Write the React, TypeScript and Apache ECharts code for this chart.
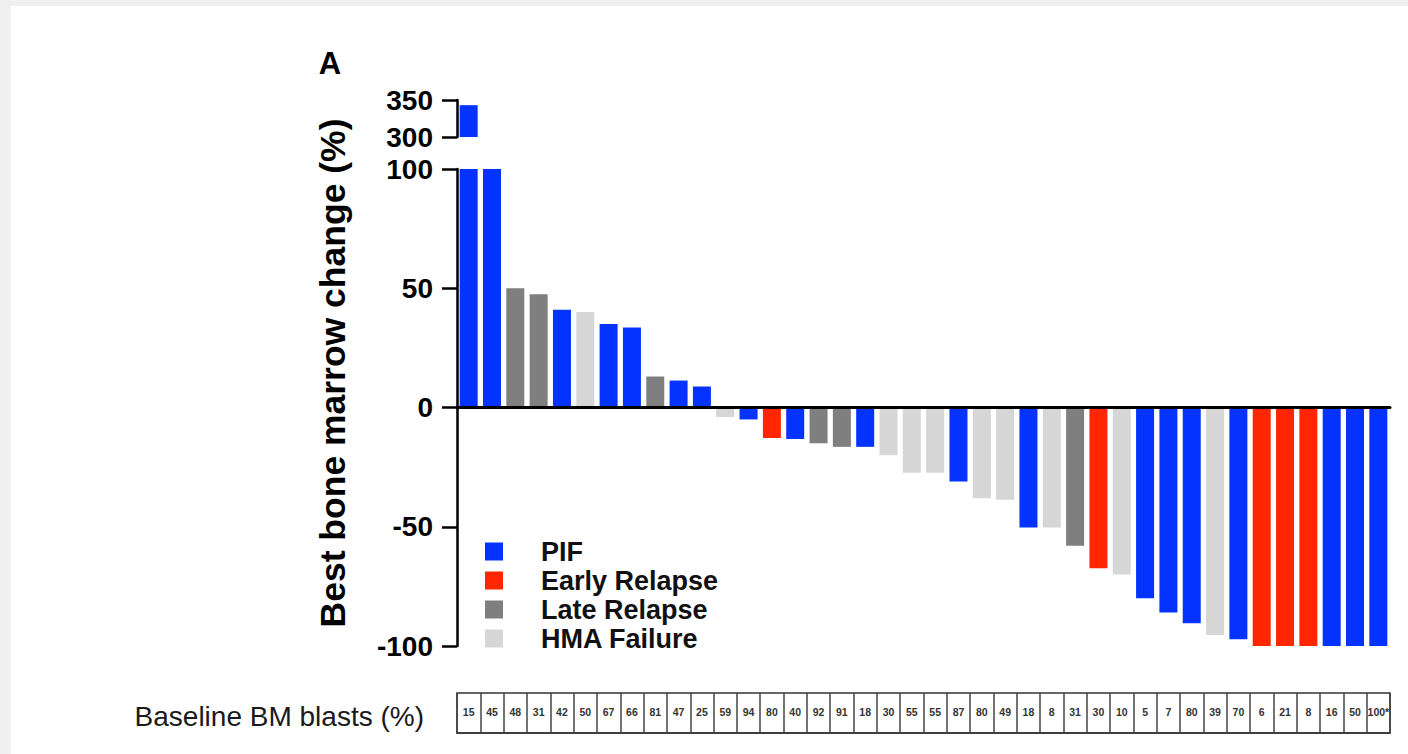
import React, { useEffect, useRef } from "react";
import * as echarts from "echarts";

// ---------- data ----------
const patients = [
  "P1", "P2", "P3", "P4", "P5", "P6", "P7", "P8", "P9", "P10",
  "P11", "P12", "P13", "P14", "P15", "P16", "P17", "P18", "P19", "P20",
  "P21", "P22", "P23", "P24", "P25", "P26", "P27", "P28", "P29", "P30",
  "P31", "P32", "P33", "P34", "P35", "P36", "P37", "P38", "P39", "P40",
];

// best bone marrow change (%)
const bestChange = [
  343, 100, 50, 47.5, 41, 40, 35, 33.5, 13, 11.3, 8.8,
  -4, -5, -12.8, -13.2, -15, -16.5, -16.5, -20, -27.4, -27.4,
  -31, -38, -38.7, -50.3, -50.3, -58, -67.4, -70, -80,
  -86, -90.5, -95.4, -97.2, -100, -100, -100, -100, -100, -100,
];

const groups = [
  "PIF", "PIF", "Late Relapse", "Late Relapse", "PIF", "HMA Failure", "PIF", "PIF", "Late Relapse", "PIF", "PIF",
  "HMA Failure", "PIF", "Early Relapse", "PIF", "Late Relapse", "Late Relapse", "PIF", "HMA Failure", "HMA Failure", "HMA Failure",
  "PIF", "HMA Failure", "HMA Failure", "PIF", "HMA Failure", "Late Relapse", "Early Relapse", "HMA Failure", "PIF",
  "PIF", "PIF", "HMA Failure", "PIF", "Early Relapse", "Early Relapse", "Early Relapse", "PIF", "PIF", "PIF",
];

const baselineBlasts = [
  "15", "45", "48", "31", "42", "50", "67", "66", "81", "47",
  "25", "59", "94", "80", "40", "92", "91", "18", "30", "55",
  "55", "87", "80", "49", "18", "8", "31", "30", "10", "5",
  "7", "80", "39", "70", "6", "21", "8", "16", "50", "100*",
];

const groupNames = ["PIF", "Early Relapse", "Late Relapse", "HMA Failure"];

const lowerTicks = { min: -100, max: 100, interval: 50 };
const upperTicks = { min: 300, max: 350, interval: 50 };

// ---------- styles ----------
const FONT = '"Liberation Sans", Arial, Helvetica, sans-serif';
const COLORS: Record<string, string> = {
  PIF: "#0433ff",
  "Early Relapse": "#ff2600",
  "Late Relapse": "#7f7f7f",
  "HMA Failure": "#d6d6d6",
};

export default function App() {
  const ref = useRef<HTMLDivElement>(null);

  useEffect(() => {
    if (!ref.current) return;
    const chart = echarts.init(ref.current, null, { renderer: "svg" });

    const gridLeft = 457;
    const gridWidth = 933;

    const yAxisCommon = {
      splitLine: { show: false },
      axisLine: { show: true, lineStyle: { color: "#000", width: 2.5 } },
      axisTick: { show: true, length: 15, lineStyle: { color: "#000", width: 2.5 } },
      axisLabel: {
        margin: 24,
        fontSize: 28,
        fontWeight: "bold",
        fontFamily: FONT,
        color: "#000",
      },
      z: 10,
    };

    const lowerSeries = groupNames.map((g) => ({
      type: "bar",
      name: g,
      xAxisIndex: 0,
      yAxisIndex: 0,
      barWidth: 18,
      barGap: "-100%",
      clip: true,
      itemStyle: { color: COLORS[g] },
      data: bestChange.map((v, i) => (groups[i] === g ? v : null)),
    }));

    const upperSeries = groupNames.map((g) => ({
      type: "bar",
      name: g,
      xAxisIndex: 1,
      yAxisIndex: 1,
      barWidth: 18,
      barGap: "-100%",
      clip: true,
      itemStyle: { color: COLORS[g] },
      data: bestChange.map((v, i) => (groups[i] === g && v >= upperTicks.min ? v : null)),
    }));

    const option: any = {
      animation: false,
      backgroundColor: "transparent",
      textStyle: { fontFamily: FONT },
      grid: [
        { left: gridLeft, top: 169, width: gridWidth, height: 477 },
        { left: gridLeft, top: 100, width: gridWidth, height: 37 },
        {
          left: gridLeft,
          top: 693,
          width: gridWidth,
          height: 40,
          show: true,
          borderColor: "#333",
          borderWidth: 1.5,
          backgroundColor: "#fff",
        },
      ],
      xAxis: [
        {
          type: "category",
          gridIndex: 0,
          data: patients,
          axisLine: { show: true, onZero: true, lineStyle: { color: "#000", width: 3 } },
          axisTick: { show: false },
          axisLabel: { show: false },
          z: 10,
        },
        {
          type: "category",
          gridIndex: 1,
          data: patients,
          axisLine: { show: false },
          axisTick: { show: false },
          axisLabel: { show: false },
        },
        {
          type: "category",
          gridIndex: 2,
          data: baselineBlasts,
          axisLine: { show: true, lineStyle: { color: "#333", width: 1.5 } },
          axisTick: { show: false },
          splitLine: { show: true, interval: 0, lineStyle: { color: "#444", width: 1.5 } },
          axisLabel: {
            interval: 0,
            margin: -27,
            fontSize: 10.5,
            fontWeight: "bold",
            fontFamily: FONT,
            color: "#333",
          },
        },
      ],
      yAxis: [
        { type: "value", gridIndex: 0, ...lowerTicks, ...yAxisCommon },
        { type: "value", gridIndex: 1, ...upperTicks, ...yAxisCommon },
        { type: "value", gridIndex: 2, min: 0, max: 1, show: false },
      ],
      legend: {
        data: groupNames,
        orient: "vertical",
        left: 480,
        top: 533,
        itemWidth: 18,
        itemHeight: 18,
        itemGap: 2,
        icon: "rect",
        selectedMode: false,
        textStyle: {
          fontSize: 27,
          fontWeight: "bold",
          fontFamily: FONT,
          color: "#111",
          lineHeight: 26,
          padding: [0, 0, 0, 33],
        },
      },
      graphic: [
        {
          type: "text",
          x: 333,
          y: 373,
          rotation: Math.PI / 2,
          style: {
            text: "Best bone marrow change (%)",
            fontSize: 35.5,
            fontWeight: "bold",
            fontFamily: FONT,
            fill: "#000",
            align: "center",
            verticalAlign: "middle",
          },
        },
        {
          type: "text",
          x: 330,
          y: 63,
          style: {
            text: "A",
            fontSize: 31,
            fontWeight: "bold",
            fontFamily: FONT,
            fill: "#000",
            align: "center",
            verticalAlign: "middle",
          },
        },
        {
          type: "text",
          x: 424,
          y: 716,
          style: {
            text: "Baseline BM blasts (%)",
            fontSize: 28,
            fontFamily: FONT,
            fill: "#1a1a1a",
            align: "right",
            verticalAlign: "middle",
          },
        },
      ],
      series: [...lowerSeries, ...upperSeries],
    };

    chart.setOption(option);
    return () => chart.dispose();
  }, []);

  return (
    <div
      style={{
        position: "fixed",
        left: 0,
        top: 0,
        width: 1408,
        height: 754,
        background: "#f0f0f0",
        overflow: "hidden",
      }}
    >
      <div
        style={{
          position: "absolute",
          left: 11,
          top: 6,
          width: 1397,
          height: 748,
          background: "#ffffff",
        }}
      />
      <div
        ref={ref}
        style={{ position: "absolute", left: 0, top: 0, width: 1408, height: 754 }}
      />
    </div>
  );
}
